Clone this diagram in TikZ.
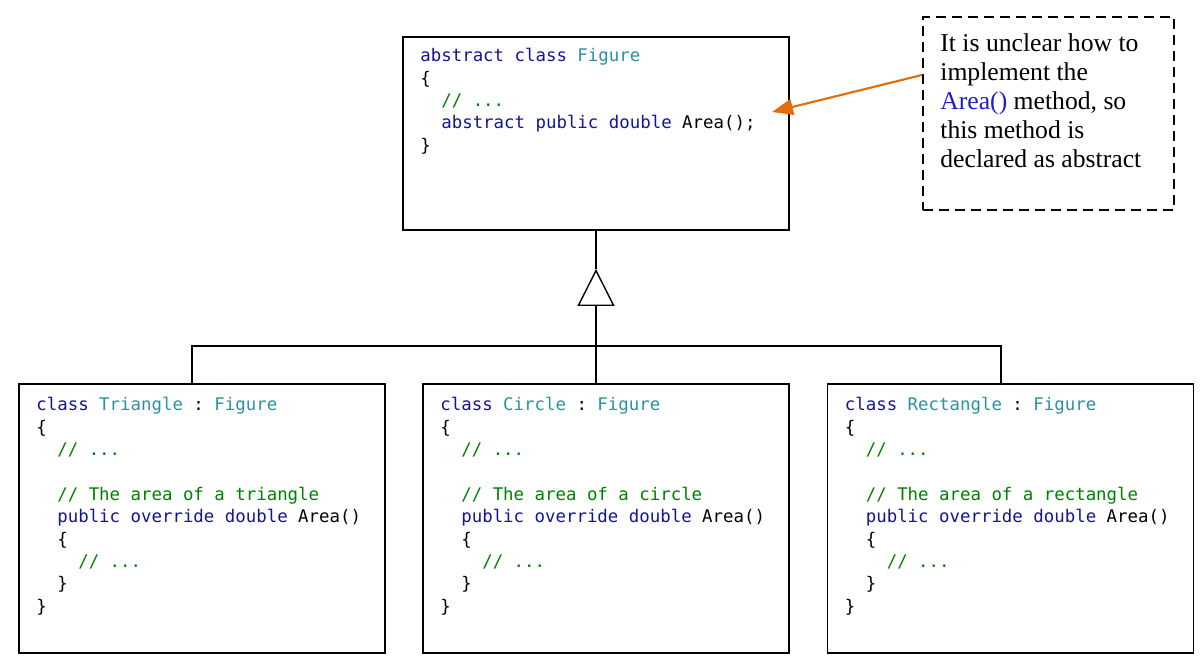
\documentclass[tikz,border=0pt]{standalone}
\usepackage{fontspec}
\setmainfont{Liberation Serif}
\setmonofont{DejaVu Sans Mono}
\usepackage{xcolor}
\usetikzlibrary{arrows.meta,positioning,calc}

\definecolor{kwblue}{RGB}{20,20,150}
\definecolor{typeteal}{RGB}{43,145,160}
\definecolor{cmtgreen}{RGB}{0,128,0}
\definecolor{notearrow}{RGB}{228,108,10}
\definecolor{notelink}{RGB}{30,30,200}

\newcommand{\kw}[1]{\textcolor{kwblue}{#1}}
\newcommand{\typ}[1]{\textcolor{typeteal}{#1}}
\newcommand{\cmt}[1]{\textcolor{cmtgreen}{#1}}

\tikzset{
  classbox/.style={draw, line width=1.1pt, minimum width=7.32cm, minimum height=5.38cm, inner sep=0pt},
  codetext/.style={anchor=north west, inner sep=0pt, align=left, font=\ttfamily\fontsize{9.9}{12.75}\selectfont},
  link/.style={line width=1.1pt},
}

\begin{document}
\begin{tikzpicture}
    \useasboundingbox (0,0) rectangle (24.06,-13.26);

    % Abstract base class
    \node[classbox, minimum width=7.72cm, minimum height=3.86cm] (fig) at (11.92,-2.67) {};
    \node[codetext] (figcode) at ([xshift=0.36cm, yshift=-0.24cm]fig.north west) {%
      \kw{abstract class} \typ{Figure}\\
      \{\\
      \ \ \cmt{// ...}\\
      \ \ \kw{abstract public double} Area();\\
      \}};

    % Note
    \node[draw, line width=1.1pt, dash pattern=on 0.2cm off 0.12cm, minimum width=5.02cm, minimum height=3.86cm] (note) at (20.97,-2.27) {};
    \node[anchor=north west, inner sep=0pt, align=left, font=\fontsize{14.6}{16.5}\selectfont] (notetext) at ([xshift=0.36cm, yshift=-0.34cm]note.north west) {%
      It is unclear how to\\
      implement the\\
      \textcolor{notelink}{Area()} method, so\\
      this method is\\
      declared as abstract};

    % Arrow to the abstract method
    \coordinate (areaptr) at (15.44,-2.24);
    \draw[notearrow, line width=1.2pt, -{Triangle[length=0.42cm, width=0.32cm]}] ([yshift=0.77cm]note.west) -- (areaptr);

    % Derived classes
    \node[classbox] (tri) at (4.04,-10.37) {};
    \node[codetext] (tricode) at ([xshift=0.36cm, yshift=-0.28cm]tri.north west) {%
      \kw{class} \typ{Triangle} : \typ{Figure}\\
      \{\\
      \ \ \cmt{// ...}\\
      \mbox{}\\
      \ \ \cmt{// The area of a triangle}\\
      \ \ \kw{public override double} Area()\\
      \ \ \{\\
      \ \ \ \ \cmt{// ...}\\
      \ \ \}\\
      \}};

    \node[classbox] (circ) at (12.12,-10.37) {};
    \node[codetext] (circcode) at ([xshift=0.36cm, yshift=-0.28cm]circ.north west) {%
      \kw{class} \typ{Circle} : \typ{Figure}\\
      \{\\
      \ \ \cmt{// ...}\\
      \mbox{}\\
      \ \ \cmt{// The area of a circle}\\
      \ \ \kw{public override double} Area()\\
      \ \ \{\\
      \ \ \ \ \cmt{// ...}\\
      \ \ \}\\
      \}};

    \node[classbox] (rect) at (20.21,-10.37) {};
    \node[codetext] (rectcode) at ([xshift=0.36cm, yshift=-0.28cm]rect.north west) {%
      \kw{class} \typ{Rectangle} : \typ{Figure}\\
      \{\\
      \ \ \cmt{// ...}\\
      \mbox{}\\
      \ \ \cmt{// The area of a rectangle}\\
      \ \ \kw{public override double} Area()\\
      \ \ \{\\
      \ \ \ \ \cmt{// ...}\\
      \ \ \}\\
      \}};

    % Inheritance
    \coordinate (genapex) at ($(fig.south)+(0,-0.76)$);
    \coordinate (joint) at ($(fig.south)+(0,-2.3)$);
    \draw[link] (fig.south) -- (genapex);
    \draw[link, -{Triangle[open, line width=0.8pt, length=0.74cm, width=0.74cm]}] ([xshift=-0.2cm]circ.north) -- (genapex);
    \draw[link] ([xshift=-0.2cm]tri.north) |- (joint) -| ([xshift=-0.19cm]rect.north);
\end{tikzpicture}
\end{document}
